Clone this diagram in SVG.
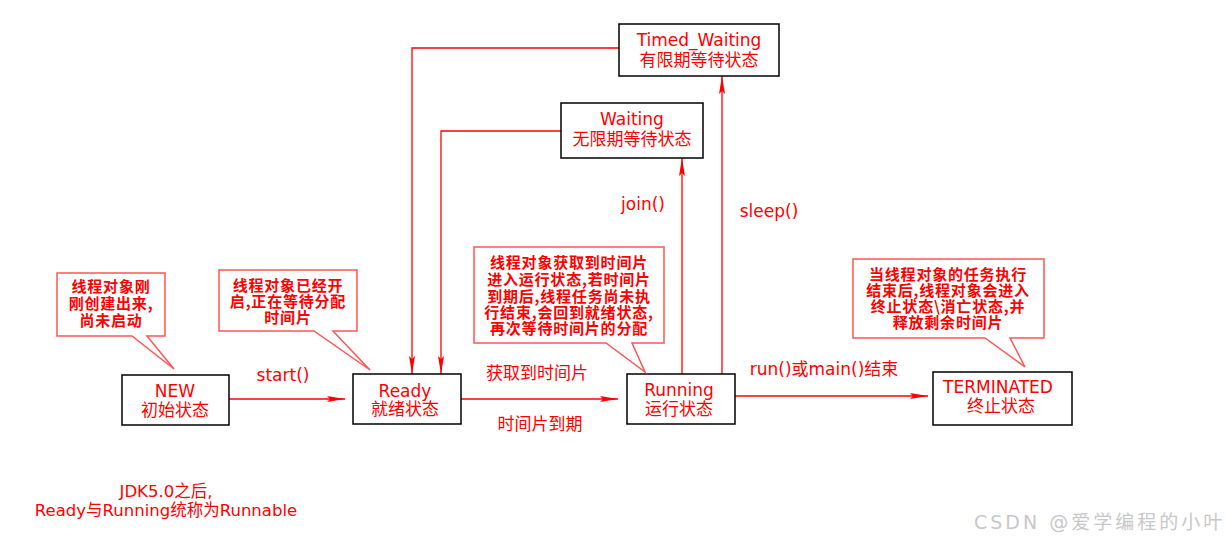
<svg xmlns="http://www.w3.org/2000/svg" width="1232" height="544" viewBox="0 0 1232 544">
<style>
.box{fill:#fff;stroke:#000;stroke-width:1.5}
.t{font-family:"DejaVu Sans","Noto Sans CJK SC",sans-serif;font-size:17px;fill:#f00;text-anchor:middle;dominant-baseline:central}
.j{font-size:16.5px}
.c{font-family:"Noto Sans CJK SC",sans-serif;font-size:15px;font-weight:bold;fill:#f00;text-anchor:middle;dominant-baseline:central;letter-spacing:0.8px}
.call{fill:#fff;stroke:#f55;stroke-width:1.5}
.ln{fill:none;stroke:#f00;stroke-width:1.3}
.wm{font-family:"DejaVu Sans","Noto Sans CJK SC",sans-serif;font-size:19px;letter-spacing:3px;fill:#c8c8c8;dominant-baseline:central}
</style>
<defs>
<marker id="ah" markerUnits="userSpaceOnUse" markerWidth="20" markerHeight="8" refX="18" refY="3" orient="auto">
<path d="M0,0 L18,3 L0,6 L3,3 Z" fill="#f00"/>
</marker>
</defs>
<rect width="1232" height="544" fill="#fff"/>

<g id="connectors">
<path class="ln" d="M229,399 H345" marker-end="url(#ah)"/>
<path class="ln" d="M461,399 H618" marker-end="url(#ah)"/>
<path class="ln" d="M735,396 H928" marker-end="url(#ah)"/>
<path class="ln" d="M682,374 V158" marker-end="url(#ah)"/>
<path class="ln" d="M722,374 V76" marker-end="url(#ah)"/>
<path class="ln" d="M561,131 H441 V374" marker-end="url(#ah)"/>
<path class="ln" d="M619,48 H412 V374" marker-end="url(#ah)"/>
<text class="t" x="283" y="375">start()</text>
<text class="t" x="537" y="373">获取到时间片</text>
<text class="t" x="540" y="424">时间片到期</text>
<text class="t" x="643" y="204">join()</text>
<text class="t" x="769" y="211">sleep()</text>
<text class="t" x="824" y="369">run()或main()结束</text>
</g>

<g id="timed_waiting">
<rect class="box" x="619" y="24" width="160" height="52"/>
<text class="t" x="699" y="40">Timed_Waiting</text>
<text class="t" x="699" y="60">有限期等待状态</text>
</g>

<g id="waiting">
<rect class="box" x="561" y="103" width="142" height="55"/>
<text class="t" x="632" y="119">Waiting</text>
<text class="t" x="632" y="139">无限期等待状态</text>
</g>

<g id="new">
<rect class="box" x="122" y="375" width="107" height="50"/>
<text class="t" x="175" y="391">NEW</text>
<text class="t" x="175" y="410">初始状态</text>
</g>

<g id="ready">
<rect class="box" x="353" y="374" width="108" height="50"/>
<text class="t" x="405" y="391">Ready</text>
<text class="t" x="405" y="409">就绪状态</text>
</g>

<g id="running">
<rect class="box" x="627" y="374" width="108" height="50"/>
<text class="t" x="679" y="390">Running</text>
<text class="t" x="679" y="409">运行状态</text>
</g>

<g id="terminated">
<rect class="box" x="933" y="372" width="139" height="53"/>
<text class="t" x="998" y="387">TERMINATED</text>
<text class="t" x="1001" y="406">终止状态</text>
</g>

<g id="note_new">
<path class="call" d="M57,273 H165 V336 H147 L174,369 L132,336 H57 Z"/>
<text class="c"><tspan x="111" y="285">线程对象刚</tspan><tspan x="111" y="302">刚创建出来,</tspan><tspan x="111" y="319">尚未启动</tspan></text>
</g>

<g id="note_ready">
<path class="call" d="M219,270 H357 V331 H333 L370,370 L314,331 H219 Z"/>
<text class="c"><tspan x="288" y="284">线程对象已经开</tspan><tspan x="288" y="300">启,正在等待分配</tspan><tspan x="288" y="316">时间片</tspan></text>
</g>

<g id="note_running">
<path class="call" d="M474,247 H664 V343 H632 L645,372 L606,343 H474 Z"/>
<text class="c"><tspan x="569" y="261">线程对象获取到时间片</tspan><tspan x="569" y="278">进入运行状态,若时间片</tspan><tspan x="569" y="295">到期后,线程任务尚未执</tspan><tspan x="569" y="311">行结束,会回到就绪状态,</tspan><tspan x="569" y="327">再次等待时间片的分配</tspan></text>
</g>

<g id="note_terminated">
<path class="call" d="M853,259 H1044 V338 H1010 L1025,367 L985,338 H853 Z"/>
<text class="c"><tspan x="948" y="273">当线程对象的任务执行</tspan><tspan x="948" y="289">结束后,线程对象会进入</tspan><tspan x="948" y="305">终止状态\消亡状态,并</tspan><tspan x="948" y="321">释放剩余时间片</tspan></text>
</g>

<g id="note_jdk">
<text class="t j" x="166" y="491">JDK5.0之后,</text>
<text class="t j" x="166" y="510">Ready与Running统称为Runnable</text>
</g>

<text class="wm" x="974" y="522">CSDN @爱学编程的小叶</text>
</svg>
